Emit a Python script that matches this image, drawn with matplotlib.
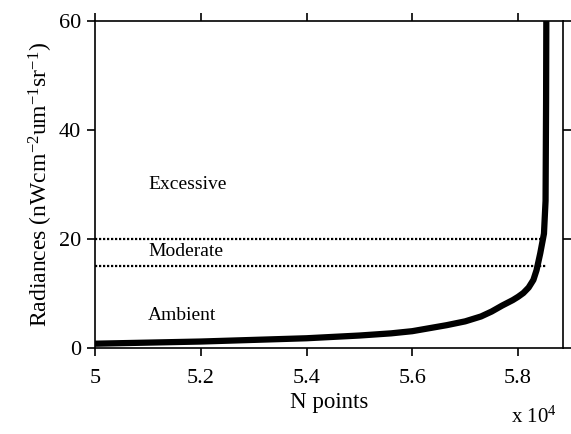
import matplotlib
matplotlib.use("Agg")
import matplotlib.pyplot as plt
from matplotlib.ticker import FuncFormatter

plt.rcParams['font.family'] = ['Liberation Serif', 'DejaVu Serif']
plt.rcParams['mathtext.fontset'] = 'custom'
plt.rcParams['mathtext.rm'] = 'Liberation Serif'
plt.rcParams['mathtext.it'] = 'Liberation Serif:italic'

# Data
n_points = [50000, 51000, 52000, 53000, 54000, 55000, 55600, 56000, 56650,
            57000, 57300, 57500, 57700, 57900, 58000, 58100, 58200, 58290,
            58350, 58420, 58490, 58520, 58530, 58535]
radiance = [0.8, 1.0, 1.2, 1.5, 1.8, 2.3, 2.7, 3.1, 4.2,
            4.9, 5.8, 6.7, 7.8, 8.8, 9.4, 10.1, 11.1, 12.5,
            14.3, 17.4, 21.0, 27.0, 45.0, 62.0]
thresholds = [20, 15]
threshold_ends = [58420, 58530]
zone_labels = ['Excessive', 'Moderate', 'Ambient']
zone_y = [30, 17.8, 5.9]
xticks = [50000, 52000, 54000, 56000, 58000]
yticks = [0, 20, 40, 60]

fig = plt.figure(figsize=(5.71, 4.34), dpi=100)
ax = fig.add_axes([0.1664, 0.198, 0.8196, 0.7536])

ax.plot(n_points, radiance, color='black', lw=4.5, solid_capstyle='butt',
        solid_joinstyle='round')
for t, e in zip(thresholds, threshold_ends):
    ax.plot([50000, e], [t, t], color='black', lw=1.6, linestyle=(0, (1, 0.8)))
for lab, yy in zip(zone_labels, zone_y):
    ax.text(51000, yy, lab, fontsize=14, va='center', ha='left')

ax.set_xlim(50000, 58850)
ax.set_ylim(0, 60)
ax.set_xticks(xticks)
ax.set_yticks(yticks)
ax.xaxis.set_major_formatter(FuncFormatter(lambda v, p: f"{v/1e4:g}"))
ax.tick_params(direction='out', length=6, width=1.2, labelsize=16,
               top=True, right=True, pad=4)
ax.tick_params(axis='x', pad=9)
for s in ax.spines.values():
    s.set_linewidth(1.2)

ax.set_xlabel('N points', fontsize=16.5, labelpad=3)
ax.set_ylabel(r'Radiances (nWcm$^{-2}$um$^{-1}$sr$^{-1}$)', fontsize=17, labelpad=3)
fig.text(0.895, 0.015, r'x 10$^4$', fontsize=15, ha='left', va='bottom')

fig.savefig('out.png', dpi=100)
